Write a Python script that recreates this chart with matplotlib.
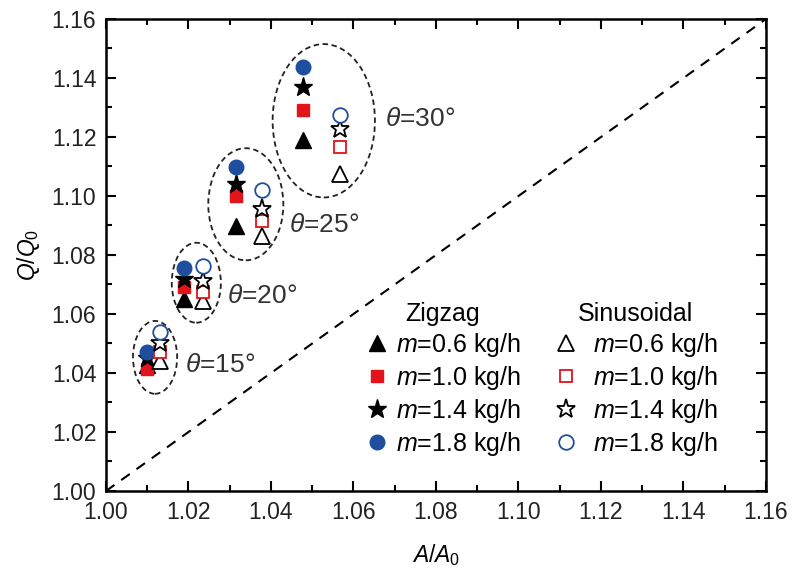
import matplotlib

matplotlib.use("Agg")
import matplotlib.pyplot as plt
from matplotlib.lines import Line2D
from matplotlib.patches import Ellipse
from matplotlib.ticker import MultipleLocator

plt.rcParams["font.family"] = ["Liberation Sans", "DejaVu Sans"]
plt.rcParams["mathtext.fontset"] = "custom"
plt.rcParams["mathtext.rm"] = "Liberation Sans"
plt.rcParams["mathtext.it"] = "Liberation Sans:italic"

# Area ratio for each wave angle (15, 20, 25, 30 deg)
zig_x = [1.0100, 1.0190, 1.0315, 1.0478]
sin_x = [1.0130, 1.0235, 1.0378, 1.0567]

# Heat transfer ratio Q/Q0, zigzag channels
zig_m06 = [1.0428, 1.0651, 1.0899, 1.1190]
zig_m10 = [1.0412, 1.0691, 1.1001, 1.1292]
zig_m14 = [1.0450, 1.0720, 1.1041, 1.1368]
zig_m18 = [1.0472, 1.0755, 1.1097, 1.1438]

# Heat transfer ratio Q/Q0, sinusoidal channels
sin_m06 = [1.0441, 1.0645, 1.0865, 1.1075]
sin_m10 = [1.0471, 1.0674, 1.0916, 1.1165]
sin_m14 = [1.0500, 1.0713, 1.0956, 1.1227]
sin_m18 = [1.0538, 1.0764, 1.1021, 1.1275]

mass_labels = ["$m$=0.6 kg/h", "$m$=1.0 kg/h", "$m$=1.4 kg/h", "$m$=1.8 kg/h"]
theta_labels = ["$\\theta$=15°", "$\\theta$=20°", "$\\theta$=25°", "$\\theta$=30°"]

# group ellipses (center x, center y, width, height) and label anchors
ell_cx = [1.0119, 1.0219, 1.0339, 1.0528]
ell_cy = [1.0453, 1.0706, 1.0972, 1.1255]
ell_w = [0.0107, 0.0119, 0.0182, 0.0248]
ell_h = [0.0247, 0.0271, 0.0380, 0.0520]
lab_x = [1.0192, 1.0294, 1.0444, 1.0677]
lab_y = [1.0427, 1.0661, 1.0902, 1.1261]

RED = "#e3131b"
BLUE = "#1f4e9f"

styles = [
    ("^", "black", 11),
    ("s", RED, 9),
    ("*", "black", 14),
    ("o", BLUE, 10.5),
]

fig = plt.figure(figsize=(7.95, 5.74), dpi=100)
ax = fig.add_axes([0.1333, 0.1446, 0.8302, 0.8223])

ax.plot([1.0, 1.16], [1.0, 1.16], color="black", linestyle=(0, (5, 4)), linewidth=1.5, zorder=1)

for cx, cy, w, h in zip(ell_cx, ell_cy, ell_w, ell_h):
    ax.add_patch(Ellipse((cx, cy), w, h, fill=False, edgecolor="#222222",
                         linestyle=(0, (3, 2)), linewidth=1.3, zorder=2))

for tx, ty, t in zip(lab_x, lab_y, theta_labels):
    ax.text(tx, ty, t, fontsize=19, color="#333333", va="center", ha="left")

zig_series = [zig_m06, zig_m10, zig_m14, zig_m18]
sin_series = [sin_m06, sin_m10, sin_m14, sin_m18]

zig_handles, sin_handles = [], []
for (mk, col, ms), ys in zip(styles, zig_series):
    ax.plot(zig_x, ys, linestyle="none", marker=mk, markersize=ms, color=col,
            markeredgecolor=col, zorder=4)
    zig_handles.append(Line2D([], [], linestyle="none", marker=mk, markersize=ms,
                              color=col, markeredgecolor=col))
for (mk, col, ms), ys in zip(styles, sin_series):
    ax.plot(sin_x, ys, linestyle="none", marker=mk, markersize=ms, markerfacecolor="white",
            markeredgecolor=col, markeredgewidth=1.3, zorder=4)
    sin_handles.append(Line2D([], [], linestyle="none", marker=mk, markersize=ms,
                              markerfacecolor="white", markeredgecolor=col,
                              markeredgewidth=1.3))

leg_kw = dict(frameon=False, fontsize=18, title_fontsize=18, borderpad=0, borderaxespad=0,
              handlelength=1.0, labelspacing=0.2, loc="upper left")
leg1 = ax.legend(zig_handles, mass_labels, title="Zigzag", handletextpad=0.26,
                 bbox_to_anchor=(0.392, 0.40), **leg_kw)
ax.add_artist(leg1)
ax.legend(sin_handles, mass_labels, title="Sinusoidal", handletextpad=0.58,
          bbox_to_anchor=(0.678, 0.40), **leg_kw)

ax.set_xlim(1.0, 1.16)
ax.set_ylim(1.0, 1.16)
ax.xaxis.set_major_locator(MultipleLocator(0.02))
ax.xaxis.set_minor_locator(MultipleLocator(0.01))
ax.yaxis.set_major_locator(MultipleLocator(0.02))
ax.yaxis.set_minor_locator(MultipleLocator(0.01))
ax.xaxis.set_major_formatter(lambda v, p: f"{v:.2f}")
ax.yaxis.set_major_formatter(lambda v, p: f"{v:.2f}")

ax.tick_params(which="both", direction="in", top=True, right=True, width=1.5,
               labelsize=16.5, colors="black", labelcolor="#222222")
ax.tick_params(which="major", length=7, pad=7)
ax.tick_params(which="minor", length=4)
for sp in ax.spines.values():
    sp.set_linewidth(1.8)

ax.set_xlabel("$A$/$A_0$", fontsize=16.5, labelpad=13)
ax.set_ylabel("$Q$/$Q_0$", fontsize=16.5, labelpad=7)

fig.savefig("out.png", dpi=100)
